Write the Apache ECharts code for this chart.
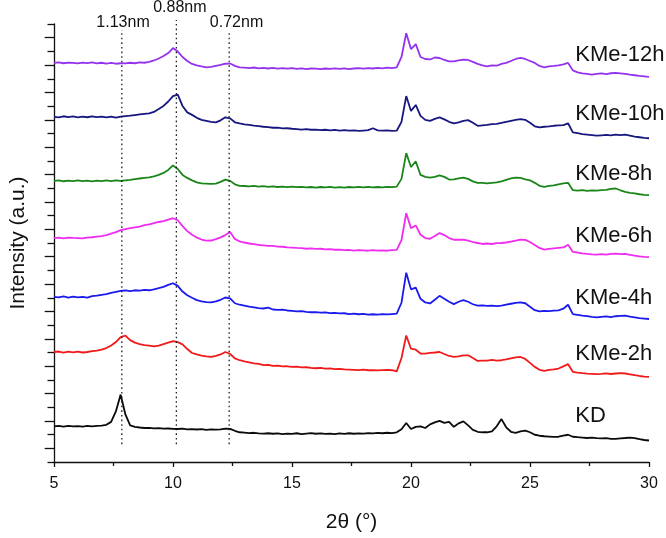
<!DOCTYPE html>
<html><head><meta charset="utf-8">
<script src="https://cdn.jsdelivr.net/npm/echarts@6/dist/echarts.min.js"></script>
<style>html,body{margin:0;padding:0;background:#fff}#c{width:666px;height:538px}</style>
</head><body><div id="c"></div>
<script>
// 2θ sampling positions (degrees)
const twoTheta = [
5.0,5.2,5.4,5.6,5.8,6.0,6.2,6.4,6.6,6.8,7.0,7.2,7.4,7.6,7.8,8.0,8.2,8.4,8.6,8.8,
9.0,9.2,9.4,9.6,9.8,10.0,10.2,10.4,10.6,10.8,11.0,11.2,11.4,11.6,11.8,12.0,12.2,12.4,12.6,12.8,
13.0,13.2,13.4,13.6,13.8,14.0,14.2,14.4,14.6,14.8,15.0,15.2,15.4,15.6,15.8,16.0,16.2,16.4,16.6,16.8,
17.0,17.2,17.4,17.6,17.8,18.0,18.2,18.4,18.6,18.8,19.0,19.2,19.4,19.6,19.8,20.0,20.2,20.4,20.6,20.8,
21.0,21.2,21.4,21.6,21.8,22.0,22.2,22.4,22.6,22.8,23.0,23.2,23.4,23.6,23.8,24.0,24.2,24.4,24.6,24.8,
25.0,25.2,25.4,25.6,25.8,26.0,26.2,26.4,26.6,26.8,27.0,27.2,27.4,27.6,27.8,28.0,28.2,28.4,28.6,28.8,
29.0,29.2,29.4,29.6,29.8,30.0];

const seriesNames = ["KMe-12h","KMe-10h","KMe-8h","KMe-6h","KMe-4h","KMe-2h","KD"];
// vertical stacking offsets (a.u.)
const offsets = [402.7, 348.3, 283.7, 226, 166.7, 111, 36];
const colors = ["#9432ee","#17177f","#1a861a","#f02cf0","#1a1aee","#f01a1a","#0a0a0a"];

const kme12 = [
0,0.5,-0.3,0.4,0, -0.5,0.3,-0.2,0.5,-0.4, 0.2,-0.6,0,-0.8,-0.3, -0.5,0.2,-0.3,0.5,0.2,
1,2.5,4.5,7,10, 15,11.5,6,2,-1, -2.5,-3.5,-4.4,-4,-3, -2,-0.8,-0.6,-3,-4.5,
-4.8,-5.2,-4.6,-5.5,-5, -5.6,-5,-5.8,-5.2,-5.8, -5.2,-6,-5.4,-6.2,-5.6, -5.8,-6.3,-5.6,-6,-5.4,
-6,-5.5,-6.2,-5.6,-5.2, -5.8,-5.2,-5.6,-5,-5.4, -4.8,-5.2,-4.5,6,30, 14,19,6,4,3.5,
5.5,5,3,1.6,1.5, 2.5,3.3,3,1,-1, -2.5,-3.4,-2.5,-2.8,-1, 0,2,4,5,4,
2,0,-3,-4.4,-3.5, -3,-2.4,-1.5,0,-7.5, -9.5,-10.5,-11,-11.7,-11, -10.5,-11.2,-10.4,-10,-10.5,
-11,-11.8,-12.4,-13,-13.5, -14];

const kme10 = [
0,-0.5,0.6,-0.3,0.4, -0.6,0.2,-0.4,0.5,-0.2, 0.3,-0.5,0.2,-0.7,0.3, 0.8,1.2,1.8,2.4,3,
3.6,5,8,11,15.5, 21,22.5,11,4.5,2, -1,-3,-4,-5,-5.6, -3.5,-0.5,-1.5,-5.5,-6.6,
-7.5,-8,-8.8,-9.4,-10, -10.4,-11,-10.8,-11.6,-11.5, -12,-12.3,-12.8,-12.4,-13, -12.8,-13.4,-13,-13.6,-13.2,
-13.8,-13.4,-14,-13.6,-14.2, -13.8,-13.4,-11.5,-13.6,-14, -13.6,-14.2,-14,-5,21, 6,12,1,-3,-4,
-2,-0.6,-2.5,-5,-6.6, -5.5,-4,-3.3,-6,-9, -8.5,-8,-7.3,-7,-6, -5,-4,-3,-2.3,-3,
-6,-9.5,-10.6,-10,-9.6, -9,-8.6,-8.4,-6.5,-15.6, -16.5,-17.5,-18,-18.5,-19, -18.6,-18.2,-18.8,-18,-18.4,
-18,-19,-20,-20.6,-21.2, -21.6];

const kme8 = [
0,0.4,-0.4,0.3,-0.2, 0.5,-0.3,0.2,-0.5,0.3, -0.2,0.4,-0.3,0.5,0, 0.5,1,1.8,2.4,3,
3.5,4.5,6,8,11, 15.6,12,6,3,0.5, -1.5,-2.5,-2.7,-3,-2.7, -1,1.3,0,-3.5,-5,
-5.2,-5.6,-5,-5.8,-5.4, -6,-5.5,-6.2,-5.8,-6.4, -5.8,-6.3,-6,-6.6,-6.2, -6.8,-6.2,-6.6,-6,-6.8,
-6.4,-6.8,-6.2,-6.6,-6, -6.5,-6,-6.6,-6.2,-6.5, -6,-6.4,-5.8,2,28, 14,19.6,6,4,3.3,
4,5.6,4,1.3,1.5, 2.5,3.3,2,-0.5,-2, -2,-2.5,-2,-1.5,-0.5, 1,2.5,3.3,3,1.5,
0.6,-2,-5,-6,-5, -4.5,-3.5,-2.5,-2,-9.4, -9.8,-9.4,-10,-9.6,-9.8, -9.4,-9,-8,-7.7,-9.5,
-11,-12.2,-12.7,-13.5,-14.2, -14.4];

const kme6 = [
0,0.4,-0.4,0.5,0.2, 0,-0.3,0.5,0.8,1.5, 2,3,4.5,6,8, 9,10,10.8,11.5,13,
13.8,15,16.2,17,18.5, 20,18,12,7,3.3, 0.5,-1.5,-2.7,-2.5,-1, 0.7,3,6,-1,-3.3,
-4.5,-5.5,-6.2,-7,-7.3, -7.8,-8,-8.6,-8.8,-9.4, -9.6,-10,-10.2,-10.8,-10.4, -11,-10.8,-11.5,-11.2,-11.8,
-11.6,-12.2,-12,-12.6,-12.2, -12.5,-12.8,-12.2,-12.7,-12.4, -12.8,-12.2,-12,-2,25, 10,12.7,3.3,0,-0.7,
2,5,3,0,-1.7, -1.5,-1.7,-2.5,-4,-5, -6,-5.5,-6,-5.2,-5, -4.5,-3.5,-2.5,-1.7,-1.8,
-4,-7,-10,-11.7,-11, -10.5,-10,-9.5,-6.7,-14, -14.6,-15.4,-16,-16.4,-16.7, -16.3,-16.8,-16,-15.8,-16.2,
-16,-17,-17.8,-18.5,-19, -19.3];

const kme4 = [
0,-0.6,0.4,-0.8,0.2, -0.5,0,-0.8,0.6,1.2, 2,2.8,4,5,6, 6.4,5.8,6.6,6.2,7,
6.6,7.5,8.7,10,12, 13.7,11,5.3,1.5,-1, -3.3,-4.5,-5.4,-5.6,-4.5, -3,-0.7,-1.5,-6.5,-8,
-9,-10,-10.6,-11.4,-11.8, -11,-12.8,-13.2,-13,-13.8, -14.2,-14.7,-14.4,-15.2,-15.6, -15.4,-16,-15.8,-16.4,-16.2,
-16.8,-16.6,-17.4,-17,-17.6, -17.2,-18,-17.6,-18,-17.4, -17.8,-17.4,-17,-6,24.3, 7.6,9.3,-2,-5.7,-6.7,
-3,1,-2,-5,-7.4, -5,-3.4,-5,-7.5,-9, -8.6,-9.2,-8.8,-9.4,-9, -8,-7,-6.2,-5.7,-6.5,
-10,-13.5,-14.7,-14.2,-14.4, -14,-13.6,-12,-8,-17.4, -18.2,-19,-19.6,-20.2,-20.7, -20.2,-19.8,-20.4,-19.6,-19.2,
-19,-20,-20.8,-21.6,-22, -22.4];

const kme2 = [
0,0.5,-0.6,0.3,-0.4, 0.4,-0.5,0,0.8,1.5, 2.5,4,6.5,10,15, 16.5,12,9.5,8,7,
6.5,5.7,6.5,8,9.5, 11,10,7.7,3,-1, -2.5,-3.6,-4.4,-5,-4, -2.5,0,-2,-6.5,-8.3,
-9.5,-10.5,-11.5,-12,-13.3, -13,-14,-13.8,-14.6,-14.4, -15,-14.8,-15.6,-15.4,-16, -16.4,-16,-16.8,-16.6,-17.2,
-17,-17.6,-17.8,-18,-18.3, -17.8,-18.4,-18.2,-18.6,-18.3, -18,-18.4,-19.5,-6,16.7, 3.3,2.3,-1.5,-1.7,-0.8,
-0.5,0,-2,-4,-5, -4.5,-3.5,-3.3,-6,-9, -8.6,-8.8,-8,-8.6,-8.3, -7.5,-6.5,-5.5,-5,-7,
-11,-15,-18,-19,-18, -17.5,-16.7,-14.5,-12.3,-20, -20.8,-21.4,-21.8,-22,-22.3, -22,-21.6,-22.2,-21.7,-21.4,
-21.7,-22.5,-23.4,-24.2,-24.8, -25];

const kd = [
0,0.4,-0.3,0.5,0, 0.3,-0.2,0.4,0,0.5, 0.8,1.5,4.5,15,32, 12,1,-0.5,-1.2,-1.7,
-1.5,-2,-1.8,-2.4,-2.2, -2.6,-2.7,-2.4,-3,-2.8, -3.2,-2.8,-3.5,-3,-3.4, -3,-2.4,-2.6,-4.5,-6,
-6.3,-6.8,-6.5,-7.2,-7.3, -7,-7.5,-7.2,-7.8,-7.4, -7.6,-7,-7.8,-7.3,-6.8, -7.5,-7.2,-7.6,-7.3,-7.8,
-7.2,-7.6,-7,-7.5,-7.1, -7.4,-6.8,-7.2,-6.6,-7, -6.5,-6.8,-6,-3,3.3, -2.7,-0.5,0,-1.7,2,
4,5.5,3.5,4.5,-0.5, 3,5,1,-3.5,-5.5, -6,-6,-5,0,7.3, -1,-5.5,-6.5,-5,-4.3,
-6,-8.5,-9.5,-10,-10.3, -10.6,-10.5,-9.5,-8.5,-10.5, -11,-11.4,-11.8,-11.5,-12, -12.2,-12,-12.6,-12.7,-12.2,
-11.8,-11.3,-12,-13,-13.8, -14.3];

const profiles = [kme12, kme10, kme8, kme6, kme4, kme2, kd];

// reference lines (2θ) and their d-spacing labels
const refLinePos = [7.85, 10.14, 12.36];
const refLineTop = [436, 446, 434];
const refLabels = ["1.13nm", "0.88nm", "0.72nm"];
const refLabelPos = [[7.9, 443], [10.29, 459], [12.67, 443]];
// series label anchors (data space)
const seriesLabelPos = [[26.9,411],[26.9,351],[26.9,291],[26.9,228],[26.9,166],[26.9,109],[26.9,46]];

const FONT = 'Arial, "Liberation Sans", Helvetica, sans-serif';
const chart = echarts.init(document.getElementById('c'), null, {renderer:'canvas'});

const series = seriesNames.map((n, k) => ({
  name: n, type: 'line', showSymbol: false, symbol: 'none',
  data: twoTheta.map((x, i) => [x, offsets[k] + profiles[k][i]]),
  lineStyle: {color: colors[k], width: 1.8},
  itemStyle: {color: colors[k]},
  clip: false, z: 3
}));

chart.setOption({
  animation: false,
  backgroundColor: '#fff',
  grid: {left: 50, right: 17, top: 24, bottom: 72},
  xAxis: {
    type: 'value', min: 5, max: 30, interval: 5,
    name: '2θ (°)', nameLocation: 'middle', nameGap: 50,
    nameTextStyle: {fontFamily: FONT, fontSize: 21, color: '#111'},
    axisLine: {lineStyle: {color: '#111', width: 1.3}},
    axisTick: {length: 5, lineStyle: {color: '#111', width: 1.3}},
    minorTick: {show: true, splitNumber: 2, length: 4, lineStyle: {color: '#111', width: 1.3}},
    axisLabel: {fontFamily: FONT, fontSize: 16, color: '#111', margin: 14},
    splitLine: {show: false}, minorSplitLine: {show: false}
  },
  yAxis: {
    type: 'value', min: 0, max: 442, interval: 27.625,
    name: 'Intensity (a.u.)', nameLocation: 'middle', nameGap: 25, nameRotate: 90,
    nameTextStyle: {fontFamily: FONT, fontSize: 21, color: '#111'},
    axisLine: {show: true, lineStyle: {color: '#111', width: 1.3}},
    axisTick: {show: true, length: 6.5, lineStyle: {color: '#111', width: 1.3}},
    minorTick: {show: true, splitNumber: 2, length: 9.3, lineStyle: {color: '#111', width: 1.3}},
    axisLabel: {show: false},
    splitLine: {show: false}, minorSplitLine: {show: false}
  },
  series: series
});

const px = (x, y) => chart.convertToPixel({gridIndex: 0}, [x, y]);
const graphics = [];
refLinePos.forEach((x, i) => {
  const a = px(x, 18), b = px(x, refLineTop[i]);
  graphics.push({type: 'line', shape: {x1: a[0], y1: a[1], x2: b[0], y2: b[1]},
    style: {stroke: '#111', lineWidth: 1.2, lineDash: [1.6, 3]}, z: 10, silent: true});
  const p = px(refLabelPos[i][0], refLabelPos[i][1]);
  graphics.push({type: 'text', x: p[0], y: p[1], z: 11,
    style: {text: refLabels[i], font: '16px ' + FONT, fill: '#111', align: 'center', verticalAlign: 'middle'}});
});
seriesNames.forEach((n, k) => {
  const p = px(seriesLabelPos[k][0], seriesLabelPos[k][1]);
  graphics.push({type: 'text', x: p[0], y: p[1], z: 11,
    style: {text: n, font: '22px ' + FONT, fill: '#111', align: 'left', verticalAlign: 'middle'}});
});
chart.setOption({graphic: graphics});
</script>
</body></html>
